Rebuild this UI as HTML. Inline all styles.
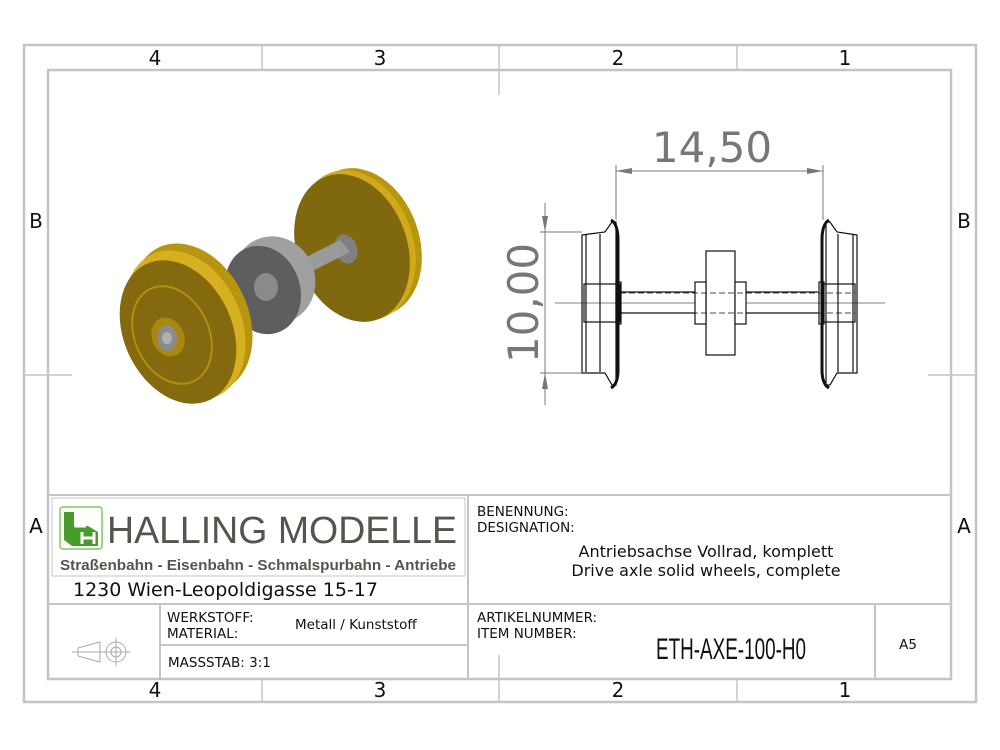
<!DOCTYPE html>
<html><head><meta charset="utf-8"><style>
html,body{margin:0;padding:0;background:#fff}
svg{display:block}
text{font-family:"DejaVu Sans","Liberation Sans",sans-serif}
text.lib{font-family:"Liberation Sans",sans-serif}
</style></head><body>
<svg width="1000" height="750" viewBox="0 0 1000 750" xmlns="http://www.w3.org/2000/svg">
<!-- frames -->
<rect x="24" y="45" width="952" height="657" fill="none" stroke="#c4c4c4" stroke-width="2.5"/>
<rect x="48" y="70" width="903" height="609" fill="none" stroke="#c4c4c4" stroke-width="2.5"/>
<g stroke="#c4c4c4" stroke-width="1.5">
<line x1="262" y1="45" x2="262" y2="70"/><line x1="499" y1="45" x2="499" y2="95"/><line x1="737" y1="45" x2="737" y2="70"/>
<line x1="262" y1="679" x2="262" y2="702"/><line x1="499" y1="655" x2="499" y2="702"/><line x1="737" y1="679" x2="737" y2="702"/>
<line x1="24" y1="375" x2="72" y2="375"/><line x1="928" y1="375" x2="976" y2="375"/>
</g>
<g font-size="20" fill="#111" text-anchor="middle">
<text x="155" y="65">4</text><text x="380" y="65">3</text><text x="618" y="65">2</text><text x="845" y="65">1</text>
<text x="155" y="697">4</text><text x="380" y="697">3</text><text x="618" y="697">2</text><text x="845" y="697">1</text>
<text x="36" y="228">B</text><text x="964" y="228">B</text>
<text x="36" y="533">A</text><text x="964" y="533">A</text>
</g>

<!-- 3D isometric axle -->
<g>
<ellipse cx="364" cy="242" rx="55" ry="76" transform="rotate(-20 364 242)" fill="#b8950f"/>
<ellipse cx="357" cy="245" rx="56" ry="77" transform="rotate(-20 357 245)" fill="#d0aa1c"/>
<ellipse cx="352" cy="248" rx="55" ry="76" transform="rotate(-20 352 248)" fill="#80680f"/>
<ellipse cx="346" cy="249" rx="11" ry="15" transform="rotate(-20 346 249)" fill="#808080"/>
<polygon points="340,240 350,252 245,305 235,293" fill="#9a9a9a"/>
<ellipse cx="274" cy="280" rx="41" ry="44" transform="rotate(-20 274 280)" fill="#a0a0a0"/>
<ellipse cx="263" cy="290" rx="37" ry="45" transform="rotate(-20 263 290)" fill="#5e5e5e"/>
<ellipse cx="266" cy="287" rx="12" ry="14" fill="#8a8a8a"/>
<polygon points="232,290 240,302 180,330 170,320" fill="#9a9a9a"/>
<ellipse cx="192" cy="318" rx="56" ry="78" transform="rotate(-25 192 318)" fill="#b8950f"/>
<ellipse cx="185" cy="325" rx="56" ry="78" transform="rotate(-25 185 325)" fill="#d6b020"/>
<ellipse cx="178" cy="332" rx="54" ry="75" transform="rotate(-25 178 332)" fill="#85690f"/>
<ellipse cx="172" cy="335" rx="37" ry="51" transform="rotate(-25 172 335)" fill="none" stroke="#b0900f" stroke-width="2"/>
<ellipse cx="168" cy="337" rx="16" ry="20" transform="rotate(-25 168 337)" fill="#a8880f"/>
<ellipse cx="167" cy="338" rx="10" ry="13" fill="#8c8c8c"/>
<ellipse cx="167" cy="338" rx="5" ry="6" fill="#b0b0b0"/>
</g>

<!-- 2D side view -->
<g stroke="#111" stroke-width="1.2" fill="none">
<line x1="555" y1="303" x2="885" y2="303" stroke="#555" stroke-width="0.8"/>
<path d="M582,235 L605,232 L612,222 L616,222 L616,385 L612,385 L605,373 L582,373 Z"/>
<path d="M611,220 Q618,224 618,240 L618,370 Q618,384 611,388" stroke-width="3"/>
<line x1="586" y1="234" x2="586" y2="372"/><line x1="600" y1="234" x2="600" y2="372"/>
<rect x="584" y="284" width="36" height="38"/>
<rect x="616" y="282" width="5" height="42"/>
<line x1="620" y1="292" x2="818" y2="292"/><line x1="620" y1="313" x2="818" y2="313"/>
<rect x="706" y="251" width="29" height="104" fill="#fff"/>
<rect x="695" y="282" width="11" height="42" fill="#fff"/><rect x="735" y="282" width="11" height="42" fill="#fff"/>
<line x1="620" y1="293" x2="855" y2="293" stroke-dasharray="6,3" stroke-width="0.8"/>
<line x1="620" y1="313" x2="855" y2="313" stroke-dasharray="6,3" stroke-width="0.8"/>
<path d="M857,235 L837,232 L830,222 L826,222 L826,385 L830,385 L837,373 L857,373 Z"/>
<path d="M829,220 Q822,224 822,240 L822,370 Q822,384 829,388" stroke-width="3"/>
<line x1="853" y1="234" x2="853" y2="372"/><line x1="838" y1="234" x2="838" y2="372"/>
<rect x="819" y="282" width="5" height="42"/>
<rect x="822" y="284" width="33" height="38"/>
</g>
<g stroke="#777" stroke-width="1" fill="#777">
<line x1="616" y1="165" x2="616" y2="220"/><line x1="823" y1="165" x2="823" y2="220"/>
<line x1="616" y1="171" x2="823" y2="171"/>
<polygon points="616,171 632,168 632,174" stroke="none"/><polygon points="823,171 807,168 807,174" stroke="none"/>
<line x1="540" y1="232" x2="582" y2="232"/><line x1="540" y1="373" x2="582" y2="373"/>
<line x1="545" y1="203" x2="545" y2="405"/>
<polygon points="545,232 542,216 548,216" stroke="none"/><polygon points="545,373 542,389 548,389" stroke="none"/>
</g>
<text x="712" y="162" font-size="42" fill="#777" text-anchor="middle">14,50</text>
<text transform="translate(538,303) rotate(-90)" font-size="42" fill="#777" text-anchor="middle">10,00</text>

<!-- title block -->
<g stroke="#c4c4c4" stroke-width="2" fill="none">
<line x1="48" y1="495" x2="951" y2="495"/>
<line x1="468" y1="495" x2="468" y2="679"/>
<line x1="48" y1="604" x2="951" y2="604"/>
<line x1="160" y1="604" x2="160" y2="679"/>
<line x1="160" y1="645" x2="468" y2="645"/>
<line x1="875" y1="604" x2="875" y2="679"/>
<rect x="52" y="498" width="413" height="78" stroke-width="1"/>
</g>
<rect x="60" y="507" width="42" height="42" rx="3" fill="#fff" stroke="#7cc860" stroke-width="1.5"/>
<path d="M64,512 h10 v14 h14 l10,6 v14 h-26 l-8,-6 z" fill="#4a9c2a"/>
<path d="M76,514 v12 h10 M82,532 v12 M94,532 v12 M82,538 h12" stroke="#fff" stroke-width="3" fill="none"/>
<text class="lib" x="107" y="543" font-size="38" fill="#55554d" textLength="350" lengthAdjust="spacingAndGlyphs">HALLING MODELLE</text>
<text class="lib" x="60" y="570" font-weight="bold" font-size="15" fill="#55554d" textLength="396" lengthAdjust="spacingAndGlyphs">Straßenbahn - Eisenbahn - Schmalspurbahn - Antriebe</text>
<text x="73" y="596" font-size="19" fill="#111">1230 Wien-Leopoldigasse 15-17</text>
<g font-size="13.5" fill="#111">
<text x="167" y="622">WERKSTOFF:</text><text x="167" y="638">MATERIAL:</text>
<text x="295" y="629">Metall / Kunststoff</text>
<text x="168" y="667">MASSSTAB: 3:1</text>
<text x="477" y="516">BENENNUNG:</text><text x="477" y="532">DESIGNATION:</text>
<text x="477" y="622">ARTIKELNUMMER:</text><text x="477" y="638">ITEM NUMBER:</text>
<text x="908" y="649" text-anchor="middle">A5</text>
</g>
<g font-size="16" fill="#111" text-anchor="middle">
<text x="706" y="557">Antriebsachse Vollrad, komplett</text>
<text x="706" y="576">Drive axle solid wheels, complete</text>
</g>
<text class="lib" x="731" y="659" font-size="30" fill="#111" text-anchor="middle" textLength="150" lengthAdjust="spacingAndGlyphs">ETH-AXE-100-H0</text>
<g stroke="#aaa" stroke-width="1" fill="none">
<path d="M78,648 L100,642 L100,662 L78,656 Z"/>
<line x1="72" y1="652" x2="130" y2="652"/>
<circle cx="116" cy="652" r="10"/><circle cx="116" cy="652" r="5"/>
<line x1="116" y1="638" x2="116" y2="666"/>
</g>
</svg>
</body></html>
